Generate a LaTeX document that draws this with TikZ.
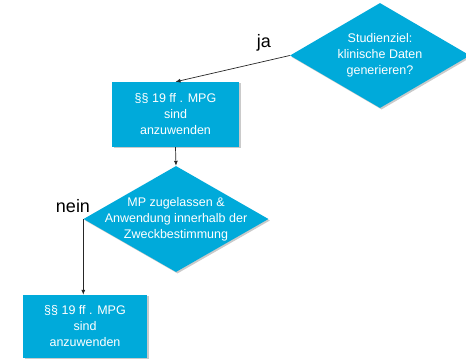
\documentclass[tikz,border=0pt]{standalone}
\usepackage{fontspec}
\setmainfont{Liberation Sans}
\usetikzlibrary{shapes.geometric,shadows,arrows.meta}
\definecolor{flowblue}{RGB}{0,170,218}
\begin{document}
\begin{tikzpicture}[x=1pt,y=-1pt,
  shade/.style={drop shadow={shadow xshift=1.5pt,shadow yshift=-1.5pt,opacity=0.35,fill=black!60}},
  labeltext/.style={text=white,align=center,font=\fontsize{12.5}{16}\selectfont},
  procbox/.style={rectangle,fill=flowblue,shade,inner sep=0pt,labeltext},
  decision/.style={diamond,fill=flowblue,shade,inner sep=0pt},
  conn/.style={draw=black!85,line width=0.7pt,-{Latex[length=5pt,width=4pt]}},
  answer/.style={font=\fontsize{18}{20}\selectfont,text=black}]
\useasboundingbox (0,0) rectangle (466,363);
% decisions: empty diamonds of fixed size, text set on top
\node[decision,minimum width=180pt,minimum height=105pt] (d1) at (380,55.5) {};
\node[labeltext] (d1text) at (d1.center) {Studienziel:\\klinische Daten\\generieren?};
\node[decision,minimum width=185pt,minimum height=106pt] (d2) at (176,219) {};
\node[labeltext] (d2text) at (d2.center) {MP zugelassen \&\\Anwendung innerhalb der\\Zweckbestimmung};
% processes
\node[procbox,minimum width=127pt,minimum height=65pt] (b1) at (175.5,114.5)
  {§§ 19 ff . MPG\\sind\\anzuwenden};
\node[procbox,minimum width=124pt,minimum height=63pt] (b2) at (85,326.5)
  {§§ 19 ff . MPG\\sind\\anzuwenden};
% answers
\node[answer] (ja) at (264,43) {ja};
\node[answer] (nein) at (73,206) {nein};
% connectors
\draw[conn] (d1.west) -- (b1.north);
\draw[conn] (b1.south) -- (d2.north);
\draw[conn] (d2.west) -- (d2.west |- b2.north);
\end{tikzpicture}
\end{document}
